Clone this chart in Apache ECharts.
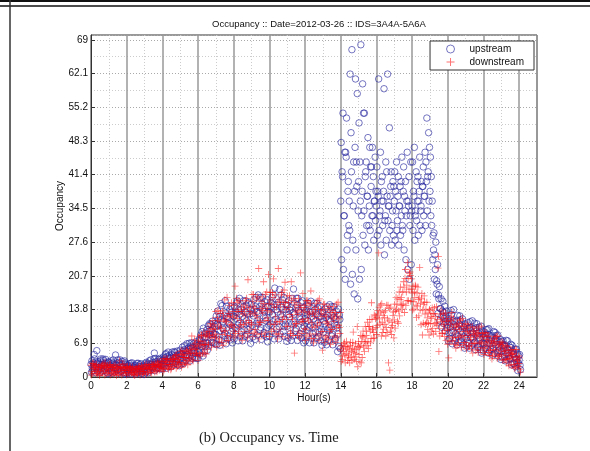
<!DOCTYPE html>
<html>
<head>
<meta charset="utf-8">
<script src="https://cdn.jsdelivr.net/npm/echarts@6/dist/echarts.min.js"></script>
<style>
  html, body { margin: 0; padding: 0; background: #fff; }
  #chart { width: 590px; height: 451px; }
</style>
</head>
<body>
<div id="chart"></div>
<script>
// samples every 0.1 hour, 4 rows per series (rows are slightly shifted in time)
var STEP = 0.1;
var ROW_SHIFT = 0.025;

// upstream occupancy, one line per hour (10 samples), last value = 24:00
var up1 = [
  2.6,1.3,3.7,2.1,3.1,0.9,2.5,3.4,1.7,2.8,
  3.0,2.3,0.8,2.6,1.8,3.5,2.7,1.2,2.0,0.6,
  0.7,2.2,1.5,2.9,1.1,2.4,0.9,1.7,2.7,1.3,
  1.5,3.0,2.8,1.3,2.6,2.0,3.8,3.1,1.8,3.6,
  3.4,2.2,4.8,3.2,4.4,2.1,3.9,5.0,3.2,4.5,
  5.5,4.7,2.8,5.4,4.5,6.9,6.0,4.2,5.4,3.8,
  3.8,7.5,6.2,10.0,6.2,9.7,6.4,8.8,11.4,8.8,
  8.7,13.5,12.4,7.5,11.3,8.9,14.5,12.2,7.6,13.3,
  12.4,8.7,15.6,11.0,13.8,7.4,12.0,14.7,9.7,12.9,
  14.9,12.5,7.7,13.4,11.0,16.3,13.9,9.1,11.5,7.2,
  8.3,14.3,11.3,18.2,9.8,15.3,8.8,12.3,16.3,10.8,
  10.4,15.6,14.2,8.4,12.8,9.9,16.1,13.2,8.0,14.2,
  11.9,8.3,15.1,10.6,13.3,7.0,11.5,14.2,9.2,12.4,
  13.1,10.9,6.6,11.8,9.6,14.4,12.2,7.9,10.1,6.2,
  36,41,33,45,38,30,42,35,47,39,
  40,36,38,34,42,37,35,39,33,36,
  35,37,34,36,38,33,37,35,39,34,
  36,34,37,35,33,38,34,36,35,33,
  35,37,34,36,38,35,39,37,40,42,
  38,31,26,22,19,16,14,13.5,12,12.5,
  10.7,7.9,12.8,9.4,11.3,6.6,9.8,11.7,8.0,10.2,
  10.6,9.0,5.9,9.4,7.8,11.0,9.4,6.3,7.7,4.9,
  5.4,8.6,6.8,9.9,5.7,8.5,4.8,6.6,8.6,5.5,
  5.2,7.4,6.6,3.5,5.4,3.7,6.5,4.8,2.1,4.8,
  3.5
];
var up2 = [
  1.0,2.9,2.0,5.4,1.5,3.3,1.2,2.3,3.6,1.8,
  1.7,3.3,2.9,1.1,2.4,1.5,3.5,2.6,0.9,2.9,
  1.9,1.0,2.8,1.6,2.3,0.6,1.8,2.5,1.2,2.1,
  2.7,2.1,0.9,2.6,2.0,3.7,3.1,1.9,2.7,1.6,
  1.7,3.9,3.0,5.1,2.7,4.6,2.5,3.8,5.3,3.5,
  3.7,6.1,5.6,3.4,5.3,4.3,7.0,6.0,4.0,6.8,
  6.6,4.7,9.3,6.9,9.0,5.5,8.7,10.8,8.1,10.4,
  12.5,10.5,6.5,11.7,9.7,15.6,12.4,8.4,10.6,7.0,
  7.8,13.3,10.6,16.1,9.2,14.3,8.3,11.5,15.2,10.1,
  10.6,15.8,14.4,8.6,13.0,10.1,16.3,13.4,8.2,14.4,
  13.3,9.3,16.8,11.8,14.8,7.8,12.8,15.8,10.3,13.8,
  14.7,12.3,7.5,13.2,10.8,16.1,13.7,8.9,11.3,7.0,
  7.4,12.8,10.1,15.5,8.8,13.7,7.9,11.0,14.6,9.7,
  9.2,13.9,12.7,7.5,11.4,8.8,14.4,11.8,5.2,12.7,
  48,54,46,53,40,62,67,44,61,58,
  52,68,60,54,44,49,47,43,41,45,
  43,61,46,41,59,44,62,51,42,40,
  42,44,41,39,45,43,40,46,41,44,
  44,47,42,41,45,40,43,46,53,50,
  45,36,29.5,27.6,23,18.5,16,15.5,14.5,13.5,
  7.4,11.2,9.1,13.8,8.0,11.6,7.2,9.4,11.9,8.2,
  7.9,11.1,10.1,6.4,9.0,7.1,10.9,9.0,5.6,9.4,
  8.1,5.9,9.7,6.9,8.4,4.5,7.0,8.5,5.3,7.1,
  7.3,5.8,3.3,5.8,4.4,6.7,5.3,2.7,3.7,1.3,
  4.6
];
var up3 = [
  3.3,2.5,0.9,2.8,2.0,3.7,2.9,1.3,2.1,0.7,
  2.4,1.2,3.5,2.0,2.9,0.8,2.3,3.2,1.5,2.6,
  1.3,2.7,2.3,0.9,1.9,1.2,2.8,2.1,0.7,2.3,
  0.9,2.5,1.8,3.5,1.7,4.9,1.7,2.7,3.8,2.5,
  4.1,3.4,1.8,3.9,3.2,5.1,4.4,2.8,3.7,2.3,
  4.7,3.3,6.4,4.6,5.9,3.3,5.4,6.8,4.8,6.4,
  5.2,8.6,8.2,5.2,8.2,6.9,10.9,9.6,7.0,11.0,
  6.6,11.8,9.5,14.6,8.4,13.1,7.8,10.9,14.4,9.9,
  14.3,12.0,7.4,12.9,10.6,15.6,13.3,8.7,11.0,6.9,
  13.0,9.1,16.3,11.5,14.4,7.7,12.5,15.4,10.1,13.4,
  10.8,16.3,14.8,8.8,13.3,10.3,16.8,13.8,8.3,14.8,
  8.0,13.7,10.8,18.0,9.4,14.7,8.4,11.8,15.6,10.4,
  13.7,11.5,7.0,12.4,10.1,15.1,12.8,8.3,10.6,6.5,
  11.4,7.9,14.4,10.1,12.7,6.6,10.9,13.5,8.8,11.8,
  24,22,20,26,31,19,21,17,26,16,
  20,22,29,27,31,26,30,33,28,32,
  29,30,27,31,25,28,32,30,27,29,
  28,30,27,29,31,26,24,22,20,23,
  30,28,32,29,31,30,33,31,34,36,
  33,24,20,17,13,11.5,10.2,11.0,9.4,10.0,
  12.0,10.2,6.8,10.7,8.9,12.6,10.8,7.4,9.0,5.9,
  9.4,6.9,11.3,8.2,9.9,5.6,8.5,10.2,6.8,8.8,
  6.8,9.7,8.7,5.3,7.5,5.8,9.1,7.4,4.2,7.7,
  4.1,6.5,4.9,7.4,3.8,6.0,2.8,4.1,5.7,2.9,
  2.4
];
var up4 = [
  1.8,4.6,3.1,1.2,2.6,1.7,3.7,2.8,1.0,3.1,
  0.9,2.7,1.8,4.5,1.4,3.0,1.1,2.1,3.3,1.7,
  2.4,1.8,0.6,2.1,1.5,2.8,2.2,1.0,1.6,0.5,
  2.2,1.2,3.3,2.1,3.0,1.3,2.7,3.6,2.3,3.3,
  2.6,4.6,4.2,2.2,3.8,2.9,5.2,4.3,2.5,4.9,
  2.7,5.3,4.2,6.8,3.9,6.3,3.8,5.4,7.2,5.2,
  7.7,6.7,4.3,8.0,7.0,10.5,9.5,7.1,8.9,6.8,
  10.8,7.6,15.0,10.0,12.6,6.8,11.1,13.8,9.3,12.5,
  10.1,15.2,13.8,8.3,12.4,9.7,15.6,12.9,7.8,13.8,
  8.2,13.9,11.0,16.8,9.6,14.9,8.6,12.0,15.8,10.6,
  15.3,12.8,7.8,13.8,11.3,17.9,14.3,9.3,11.8,7.3,
  12.8,8.9,16.1,11.3,14.2,7.5,12.3,15.2,9.9,13.2,
  9.7,14.6,13.3,7.9,11.9,9.2,15.1,12.4,7.4,13.3,
  7.1,12.2,9.6,14.8,8.4,13.1,7.5,10.5,13.9,5.8,
  42,33,46,29,36,50,28,38,44,34,
  44,33,54,41,37,31,43,47,36,38,
  38,33,40,36,32,42,35,37,31,39,
  38,32,35,40,30,37,33,36,31,34,
  38,33,40,36,34,39,37,44,41,47,
  41,29,25,19.7,16.8,14,12.5,13.2,11.3,11.6,
  9.0,13.6,11.5,7.4,10.3,8.3,12.5,10.4,6.7,10.9,
  6.4,9.9,8.0,11.5,6.9,10.1,6.1,8.1,10.4,7.0,
  9.2,7.8,4.9,8.0,6.5,9.3,7.8,5.0,6.1,3.6,
  6.4,4.2,7.5,4.9,6.1,2.5,4.6,5.7,3.0,4.3,
  1.5
];

// downstream occupancy
var dn1 = [
  2.4,0.7,1.6,2.6,1.2,0.6,2.1,1.3,2.9,1.0,
  1.0,2.6,1.9,0.5,2.1,1.1,3.3,2.1,0.7,1.7,
  0.4,1.4,2.0,0.9,1.6,1.5,0.7,2.2,1.2,1.8,
  2.5,2.0,1.0,1.7,0.8,2.6,2.1,1.1,2.5,2.0,
  3.2,1.5,2.6,3.8,2.5,1.8,3.6,2.8,4.6,2.6,
  2.9,5.4,4.5,2.7,5.2,4.0,6.1,5.8,7.6,5.7,
  3.4,6.5,8.5,5.9,8.2,8.3,6.6,10.9,8.6,10.7,
  13.4,11.6,7.8,9.9,6.5,15.8,11.3,7.4,12.4,10.6,
  14.7,8.9,12.0,15.6,10.7,8.4,13.8,11.1,19.9,9.8,
  10.7,16.9,14.0,8.8,22.2,11.2,16.4,15.0,9.2,13.6,
  8.3,13.3,16.3,10.8,14.3,22.2,9.8,17.3,12.3,15.3,
  16.6,14.2,9.4,11.8,4.9,15.2,12.8,8.0,13.7,11.3,
  14.2,8.4,11.5,15.1,10.2,7.9,13.3,10.6,16.0,9.3,
  9.3,14.9,12.3,7.6,13.2,9.7,14.4,13.2,8.0,11.9,
  5.5,3.6,7.1,4.8,6.2,2.9,5.2,9.2,4.1,5.7,
  7.3,6.4,4.0,8.2,7.3,11.2,10.3,7.9,10.0,8.0,
  8.7,12.9,10.8,15.0,9.8,13.6,9.1,11.5,14.3,10.5,
  11.7,16.3,16.0,12.5,16.3,14.9,20.2,18.8,15.6,20.8,
  17.2,13.9,18.5,14.5,16.2,10.7,13.7,15.3,11.1,13.1,
  13.6,12.0,8.8,12.3,10.6,5.2,12.2,9.0,10.4,7.5,
  6.7,9.8,11.6,8.0,10.1,9.7,7.1,11.8,8.5,10.3,
  10.9,9.4,6.4,7.7,4.9,9.5,8.0,5.0,8.4,6.8,
  8.3,5.0,6.5,8.4,5.5,4.3,7.2,5.5,8.4,4.5,
  4.5,7.0,5.5,2.9,5.5,3.6,5.6,4.8,2.0,3.6,
  2.8
];
var dn2 = [
  0.4,1.7,2.5,1.1,2.0,1.9,0.8,2.8,1.5,2.3,
  2.6,2.0,0.8,1.4,0.3,2.2,1.6,0.4,1.9,1.3,
  1.9,0.6,1.3,2.1,1.0,0.5,1.7,1.1,2.3,0.8,
  1.1,2.6,2.0,0.9,2.5,1.6,2.9,2.7,1.4,2.4,
  1.1,2.6,3.6,2.1,3.3,3.2,2.2,4.4,3.1,4.0,
  5.2,4.5,2.9,3.9,2.5,5.6,4.9,3.3,5.6,4.9,
  7.4,4.3,6.6,9.2,6.6,5.6,9.3,8.0,11.6,8.0,
  8.2,13.6,11.4,7.1,12.5,9.5,16.3,13.0,8.4,12.2,
  8.0,12.5,15.2,10.2,13.4,12.9,9.3,16.1,11.6,14.3,
  16.9,14.5,9.7,12.1,7.8,15.5,13.1,8.3,14.0,11.6,
  15.8,9.3,20.1,16.8,11.3,8.8,14.8,11.8,17.8,10.3,
  10.4,16.6,19.5,8.5,14.7,10.9,16.1,14.7,8.9,13.3,
  7.5,12.0,14.7,17.6,12.9,12.4,8.8,15.6,11.1,13.8,
  14.9,12.7,8.4,10.6,6.7,13.6,11.4,7.1,12.3,10.1,
  3.2,5.9,4.5,7.3,3.9,6.4,3.4,5.0,6.8,10.3,
  4.6,8.5,8.2,5.2,8.5,7.3,11.8,15.2,7.9,12.5,
  12.2,25.4,14.7,11.2,13.3,8.4,11.9,14.0,10.1,12.6,
  14.9,13.9,11.0,15.9,14.9,19.5,22.0,15.6,18.0,15.5,
  13.7,17.4,14.7,18.4,22.4,16.0,11.0,12.9,15.3,11.0,
  10.9,14.1,13.0,9.3,11.8,9.9,13.7,11.7,8.3,12.0,
  11.5,7.3,13.2,11.9,8.1,6.5,10.3,8.3,12.0,7.1,
  7.1,10.8,9.0,5.7,9.3,6.9,10.0,9.1,5.5,8.0,
  4.6,7.0,8.3,5.4,7.0,6.8,4.7,8.3,5.7,7.0,
  7.2,5.9,3.6,4.4,2.3,5.5,4.1,1.8,4.1,2.8,
  3.9
];
var dn3 = [
  1.1,2.8,2.0,0.6,2.3,1.2,2.6,2.3,0.7,1.9,
  2.2,0.7,1.5,2.5,1.1,0.5,2.0,1.3,2.7,0.9,
  2.2,1.7,0.7,1.2,0.3,1.9,1.4,0.4,1.6,1.1,
  0.5,1.7,2.5,1.4,2.2,2.1,1.3,3.1,2.1,2.8,
  1.8,3.8,3.0,1.6,3.6,2.5,4.1,3.8,2.2,3.6,
  4.7,2.5,4.0,5.5,3.8,3.1,8.4,4.5,6.9,4.4,
  8.2,7.3,5.0,6.7,4.7,9.4,8.5,6.1,9.7,8.8,
  6.2,10.4,13.0,8.7,11.7,11.5,8.5,14.6,10.8,13.4,
  10.2,16.1,13.4,8.4,14.3,10.7,15.6,14.3,8.9,12.9,
  15.5,9.2,12.6,16.4,11.2,8.8,14.5,11.6,17.4,21.0,
  17.3,14.8,9.8,12.3,7.8,15.8,13.3,8.3,14.3,11.8,
  8.0,12.8,15.7,10.4,13.7,13.3,9.4,21.3,11.8,14.7,
  9.7,15.6,12.9,7.9,13.8,10.2,15.1,13.8,8.4,12.4,
  13.6,8.0,11.0,14.4,9.7,7.6,12.7,10.1,15.3,8.9,
  6.4,5.2,2.9,5.7,4.5,7.1,5.9,3.6,4.8,2.1,
  6.1,2.9,9.4,7.0,9.4,5.8,9.4,11.8,9.1,11.9,
  10.5,14.3,13.3,9.1,12.2,10.1,14.7,1.4,8.7,13.3,
  10.0,14.9,13.5,18.4,13.9,18.4,14.6,23.4,21.2,18.0,
  18.6,16.3,12.2,15.9,13.7,17.1,14.8,10.8,12.1,8.6,
  12.4,9.9,14.2,11.1,22.3,8.4,11.3,12.9,9.5,11.4,
  3.9,10.8,7.5,9.0,5.9,11.0,9.3,6.0,9.8,8.1,
  5.7,8.5,10.1,6.8,8.7,8.4,6.0,10.2,7.2,8.9,
  5.8,9.0,7.3,4.4,7.5,5.6,8.2,7.3,4.2,6.2,
  6.6,3.6,4.9,6.3,3.8,2.5,4.7,3.3,5.6,2.2,
  1.6
];
var dn4 = [
  2.8,2.1,0.8,1.5,0.3,2.4,1.7,0.4,2.0,1.3,
  0.4,1.6,2.3,1.0,1.9,1.7,0.8,2.6,1.4,2.1,
  0.9,2.2,1.6,0.5,1.8,1.0,2.1,1.8,0.6,1.5,
  2.2,0.8,1.7,2.7,1.6,1.0,2.4,1.9,3.3,1.7,
  3.7,3.1,1.8,2.6,1.5,3.7,3.1,1.8,3.6,3.0,
  2.0,4.0,5.3,3.4,4.8,4.9,3.6,6.5,4.9,6.2,
  4.7,8.6,7.4,4.8,8.8,7.0,10.4,9.9,7.0,9.8,
  12.2,7.2,10.2,13.5,9.3,7.5,12.5,10.2,15.2,9.4,
  18.6,13.8,9.3,11.6,7.5,14.7,12.5,8.0,13.4,11.1,
  8.3,13.1,16.0,10.7,14.0,13.6,19.5,16.9,12.1,15.0,
  10.8,17.3,14.3,8.8,15.3,11.3,16.8,15.3,19.4,13.8,
  15.2,8.9,12.3,16.1,10.9,8.5,14.2,11.3,17.1,9.9,
  15.6,13.3,8.8,11.1,7.0,14.2,12.0,7.5,12.9,5.5,
  7.1,11.4,14.0,9.3,12.3,11.9,8.4,14.9,10.6,13.2,
  4.3,6.8,6.2,3.4,5.5,4.1,7.1,5.7,3.2,6.2,
  3.1,7.3,6.1,10.3,6.4,10.3,7.0,9.7,12.7,10.1,
  13.6,11.9,8.4,12.6,10.8,14.7,2.9,9.4,11.2,8.0,
  13.5,11.4,17.4,14.6,17.4,13.2,17.4,20.2,21.5,20.1,
  15.4,18.8,17.2,12.5,15.1,8.6,16.6,13.9,9.7,13.8,
  9.4,12.9,10.9,14.4,24.7,12.9,8.9,10.8,13.1,9.6,
  8.3,12.4,10.4,6.7,10.7,8.1,11.6,10.5,6.6,9.3,
  10.0,6.2,8.1,10.3,6.9,5.5,8.9,7.0,10.4,6.0,
  9.1,7.7,5.0,6.2,3.7,7.8,6.5,3.8,6.7,5.2,
  3.4,5.3,6.4,3.8,5.0,4.6,2.6,5.6,3.3,4.3,
  1.0
];

var yTicks = ['0', '6.9', '13.8', '20.7', '27.6', '34.5', '41.4', '48.3', '55.2', '62.1', '69'];

// pair each row with its sample times
function toPoints(rows) {
  var pts = [];
  rows.forEach(function (row, k) {
    row.forEach(function (v, i) {
      pts.push([+(i * STEP + k * ROW_SHIFT).toFixed(3), v]);
    });
  });
  return pts;
}

var plusPath = 'path://M4.4,0H5.6V10H4.4Z M0,4.4H10V5.6H0Z';
var upColor = 'rgba(40,40,160,0.8)';
var dnColor = 'rgba(255,0,0,0.7)';

var myChart = echarts.init(document.getElementById('chart'));

option = {
  backgroundColor: '#fff',
  animation: false,
  title: {
    text: 'Occupancy :: Date=2012-03-26 :: IDS=3A4A-5A6A',
    left: 314,
    top: 14,
    textAlign: 'center',
    textStyle: { fontFamily: 'Liberation Sans', fontSize: 9.5, fontWeight: 'normal', color: '#111' }
  },
  legend: {
    orient: 'vertical',
    right: 56,
    top: 41,
    width: 100,
    padding: [3, 10, 3, 16],
    itemGap: 3,
    itemWidth: 8,
    itemHeight: 8,
    backgroundColor: '#fff',
    borderColor: '#333',
    borderWidth: 1,
    textStyle: { fontFamily: 'Liberation Sans', fontSize: 10, color: '#111', padding: [0, 0, 0, 10] },
    data: [
      { name: 'upstream', icon: 'circle', itemStyle: { color: 'transparent', borderColor: upColor, borderWidth: 1 } },
      { name: 'downstream', icon: plusPath, itemStyle: { color: dnColor, borderWidth: 0 } }
    ]
  },
  grid: {
    left: 91, right: 53, top: 35, bottom: 74,
    show: true, borderColor: '#333', borderWidth: 1
  },
  xAxis: {
    type: 'value',
    min: 0, max: 25, interval: 2,
    name: 'Hour(s)',
    nameLocation: 'middle',
    nameGap: 16,
    nameMoveOverlap: false,
    nameTextStyle: { fontFamily: 'Liberation Sans', fontSize: 10, color: '#111' },
    axisLine: { show: true, onZero: false, lineStyle: { color: '#333' } },
    axisTick: { show: true, inside: true, length: 4, lineStyle: { color: '#333' } },
    axisLabel: { showMaxLabel: false, margin: 4, fontFamily: 'Liberation Sans', fontSize: 10, color: '#111' },
    splitLine: { show: true, lineStyle: { color: '#999', width: 1.5 } },
    minorTick: { show: false, splitNumber: 2 },
    minorSplitLine: { show: true, lineStyle: { color: '#ccc', type: [1, 2] } }
  },
  yAxis: {
    type: 'value',
    min: 0, max: 70, interval: 6.9,
    name: 'Occupancy',
    nameLocation: 'middle',
    nameGap: 26,
    nameMoveOverlap: false,
    nameTextStyle: { fontFamily: 'Liberation Sans', fontSize: 10, color: '#111' },
    axisLine: { show: true, lineStyle: { color: '#333' } },
    axisTick: { show: true, inside: true, length: 4, lineStyle: { color: '#333' } },
    axisLabel: {
      showMaxLabel: false, margin: 3, fontFamily: 'Liberation Sans', fontSize: 10, color: '#111',
      formatter: function (v) {
        var i = Math.round(v / 6.9);
        return yTicks[i] !== undefined ? yTicks[i] : '';
      }
    },
    splitLine: { show: true, lineStyle: { color: '#aaa', type: [1, 2] } },
    minorTick: { show: false, splitNumber: 2 },
    minorSplitLine: { show: true, lineStyle: { color: '#ccc', type: [1, 2] } }
  },
  graphic: [
    { type: 'line', shape: { x1: 0, y1: 1, x2: 590, y2: 1 }, style: { stroke: '#111', lineWidth: 2 } },
    { type: 'line', shape: { x1: 0, y1: 6, x2: 590, y2: 6 }, style: { stroke: '#111', lineWidth: 1.5 } },
    { type: 'line', shape: { x1: 10, y1: 0, x2: 10, y2: 451 }, style: { stroke: '#333', lineWidth: 1.5 } },
    {
      type: 'text', left: 199, top: 431,
      style: { text: '(b) Occupancy vs. Time', font: '14.5px "Liberation Serif"', fill: '#222' }
    }
  ],
  series: [
    {
      name: 'upstream',
      type: 'scatter',
      symbol: 'circle',
      symbolSize: 6.5,
      itemStyle: { color: 'transparent', borderColor: upColor, borderWidth: 1 },
      data: toPoints([up1, up2, up3, up4])
    },
    {
      name: 'downstream',
      type: 'scatter',
      symbol: plusPath,
      symbolSize: 7,
      itemStyle: { color: dnColor },
      data: toPoints([dn1, dn2, dn3, dn4])
    }
  ]
};

myChart.setOption(option);
</script>
</body>
</html>
